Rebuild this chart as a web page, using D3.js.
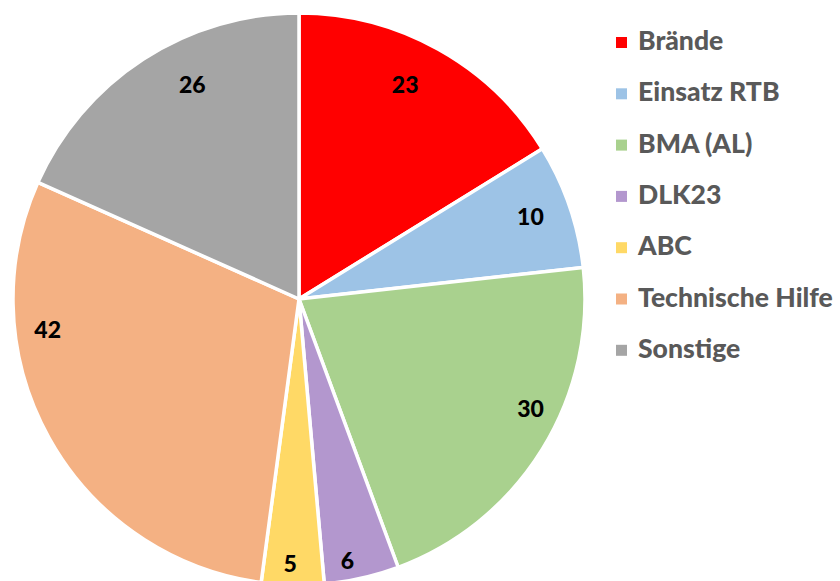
<!DOCTYPE html>
<html>
<head>
<meta charset="utf-8">
<script src="https://cdn.jsdelivr.net/npm/d3@7"></script>
<style>
  body { margin: 0; background: #fff; }
  svg { display: block; }
</style>
</head>
<body>
<svg id="chart"></svg>
<script>
// chart data
const categories = ['Brände', 'Einsatz RTB', 'BMA (AL)', 'DLK23', 'ABC', 'Technische Hilfe', 'Sonstige'];
const values = [23, 10, 30, 6, 5, 42, 26];
const colors = ['#FF0000', '#9DC3E6', '#A9D18E', '#B397CE', '#FFD966', '#F4B183', '#A5A5A5'];

// where each value label sits inside its slice (fraction along the slice angle, fraction of radius)
const labelAlong = [0.45, 0.47, 0.415, 0.64, 0.55, 0.71, 0.60];
const labelRadius = [0.84, 0.86, 0.895, 0.927, 0.923, 0.885, 0.84];

const width = 840, height = 581;
const cx = 299, cy = 299, radius = 286;

const svg = d3.select('#chart')
    .attr('width', width)
    .attr('height', height);

const pie = d3.pie().sort(null).value(d => d);
const arcs = pie(values);

const arc = d3.arc().innerRadius(0).outerRadius(radius);

const g = svg.append('g')
    .attr('transform', `translate(${cx},${cy})`);

g.selectAll('.slice')
    .data(arcs)
    .enter()
  .append('path')
    .attr('class', 'slice')
    .attr('d', arc)
    .attr('fill', (d, i) => colors[i])
    .attr('stroke', '#fff')
    .attr('stroke-width', 3.5)
    .attr('stroke-linejoin', 'round');

// value labels
g.selectAll('.label')
    .data(arcs)
    .enter()
  .append('text')
    .attr('class', 'label')
    .attr('transform', (d, i) => {
      const a = d.startAngle + labelAlong[i] * (d.endAngle - d.startAngle);
      const r = labelRadius[i] * radius;
      const p = d3.arc().innerRadius(r).outerRadius(r).startAngle(a).endAngle(a).centroid();
      return `translate(${p[0]},${p[1]})`;
    })
    .attr('text-anchor', 'middle')
    .attr('dominant-baseline', 'central')
    .style('font-family', 'Lato, "Open Sans", sans-serif')
    .style('font-weight', '900')
    .style('font-size', '23px')
    .attr('fill', '#000')
    .text(d => d.data);

// legend
const legendX = 616, legendY = 50, legendStep = 51.3;
const legend = svg.append('g').attr('class', 'legend');

const items = legend.selectAll('.item')
    .data(categories)
    .enter()
  .append('g')
    .attr('class', 'item')
    .attr('transform', (d, i) => `translate(${legendX},${legendY + i * legendStep})`);

items.append('rect')
    .attr('x', 0)
    .attr('y', -13)
    .attr('width', 11)
    .attr('height', 11)
    .attr('fill', (d, i) => colors[i]);

const labels = items.append('text')
    .attr('x', 22)
    .attr('y', 0)
    .style('font-family', 'Lato, "Open Sans", sans-serif')
    .style('font-weight', '900')
    .style('font-size', '26px')
    .attr('fill', '#595959')
    .text(d => d);

// fit the longest legend entry to the width seen in the reference
const longest = labels.filter(d => d === 'Technische Hilfe').node();
const w = longest.getComputedTextLength();
const size = 26 * 195 / w;
labels.style('font-size', size + 'px');
</script>
</body>
</html>
